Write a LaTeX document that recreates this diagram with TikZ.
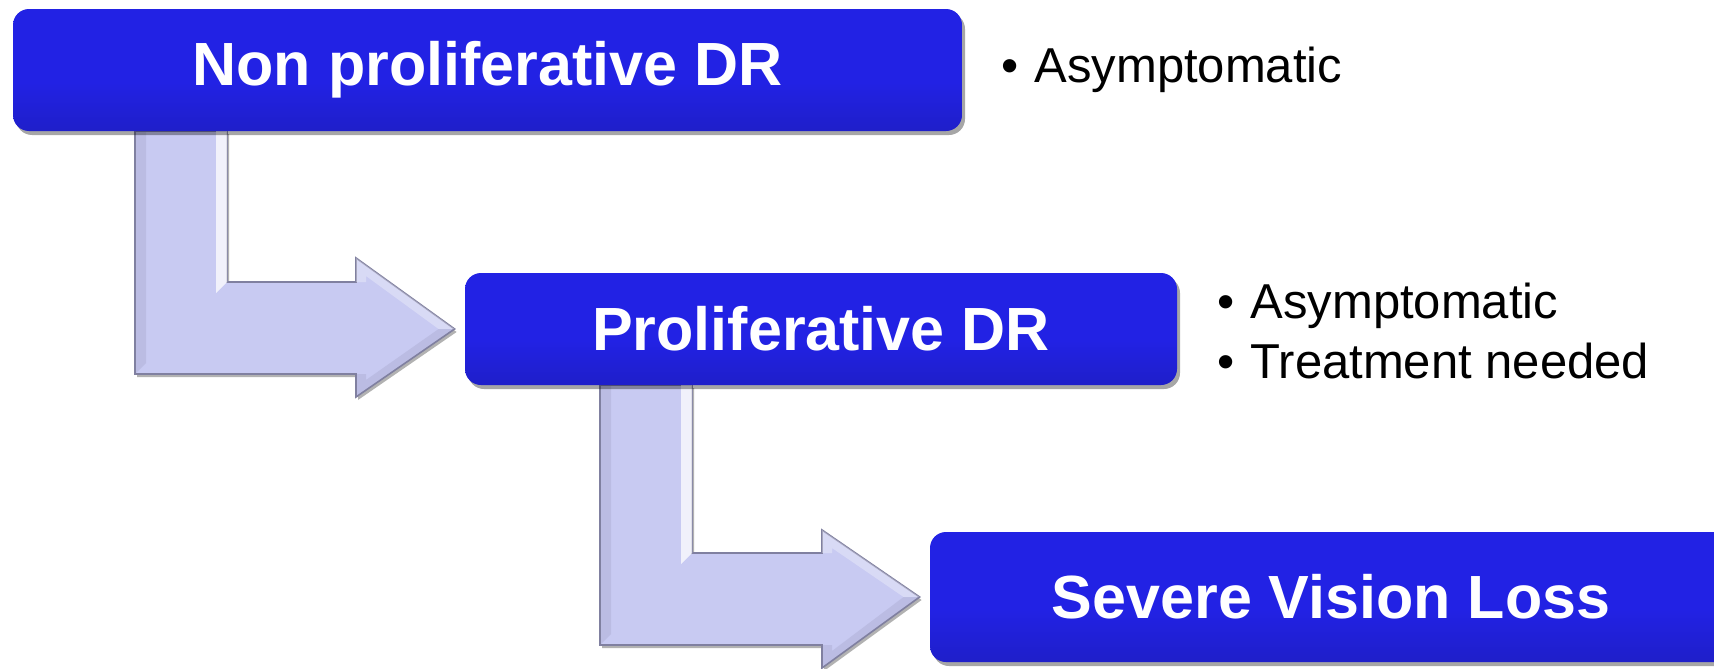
\documentclass[tikz,border=0pt]{standalone}
\usepackage{fontspec}
\setmainfont{Liberation Sans}
\usetikzlibrary{calc,shadows,backgrounds}
\definecolor{btop}{RGB}{84,84,248}
\definecolor{bmid}{RGB}{34,34,228}
\definecolor{bbot}{RGB}{26,26,168}
\definecolor{afill}{RGB}{200,202,242}
\definecolor{aedge}{RGB}{128,128,160}
\pgfdeclareverticalshading{boxshade}{100bp}{color(0bp)=(bbot); color(45bp)=(bmid); color(90bp)=(bmid); color(96bp)=(btop); color(100bp)=(btop)}
\begin{document}
\begin{tikzpicture}[x=0.5pt,y=-0.5pt,
  stage/.style={rounded corners=8pt, shading=boxshade, draw=none, text=white,
    font=\bfseries\fontsize{30.5}{36}\selectfont, inner sep=0pt,
    drop shadow={shadow xshift=1.5pt, shadow yshift=-2pt, opacity=0.35, fill=black}},
  note/.style={anchor=base west, font=\fontsize{24.5}{30}\selectfont, inner sep=0pt},
  benta/.style={fill=afill, draw=aedge, line width=0.8pt, line join=miter,
    drop shadow={shadow xshift=1pt, shadow yshift=-1.5pt, opacity=0.3, fill=black}},
  facet/.style={fill=white, opacity=0.75, draw=none},
  litefacet/.style={fill=white, opacity=0.3, draw=none},
  darkfacet/.style={fill=aedge, opacity=0.18, draw=none}]
\useasboundingbox (0,0) rectangle (1714,669);

\node[stage, minimum width=474.5pt, minimum height=61pt] (b1) at (487.5,70) {Non proliferative DR};
\node[stage, minimum width=356pt, minimum height=56pt] (b2) at (821,329) {Proliferative DR};
\node[stage, minimum width=401pt, minimum height=65pt] (b3) at (1331,597) {Severe Vision Loss};

\node[note] (n1) at (1001,83) {•\hspace{8pt}Asymptomatic};
\node[note] (n2) at (1217,318) {•\hspace{8pt}Asymptomatic};
\node[note] (n3) at (1217,378) {•\hspace{8pt}Treatment needed};

\begin{pgfonlayer}{background}
\fill[white] (0,0) rectangle (1714,669);
\coordinate (t1) at ($(b2.west)+(-10,0)$);
\coordinate (t2) at ($(b3.west)+(-10,0)$);
% first bent arrow
\draw[benta] (135,131) -- (227,131) -- (227,282) -- (356,282) -- (356,258) -- (t1)
  -- (356,397) -- (356,374) -- (135,374) -- cycle;
\fill[facet] (216,131) -- (227,131) -- (227,282) -- (216,293) -- cycle;
\fill[litefacet] (356,258) -- (t1) -- ($(t1)+(-16,0)$) -- (366,276) -- (366,282) -- (356,282) -- cycle;
\fill[darkfacet] (356,397) -- (t1) -- ($(t1)+(-16,0)$) -- (366,380) -- (366,374) -- (356,374) -- cycle;
\fill[darkfacet] (135,131) -- (146,131) -- (146,363) -- (135,374) -- cycle;
% second bent arrow
\draw[benta] (600,385) -- (692,385) -- (692,553) -- (822,553) -- (822,530) -- (t2)
  -- (822,668) -- (822,645) -- (600,645) -- cycle;
\fill[facet] (681,385) -- (692,385) -- (692,553) -- (681,564) -- cycle;
\fill[litefacet] (822,530) -- (t2) -- ($(t2)+(-16,0)$) -- (832,548) -- (832,553) -- (822,553) -- cycle;
\fill[darkfacet] (822,668) -- (t2) -- ($(t2)+(-16,0)$) -- (832,651) -- (832,645) -- (822,645) -- cycle;
\fill[darkfacet] (600,385) -- (611,385) -- (611,634) -- (600,645) -- cycle;
\end{pgfonlayer}
\end{tikzpicture}
\end{document}
